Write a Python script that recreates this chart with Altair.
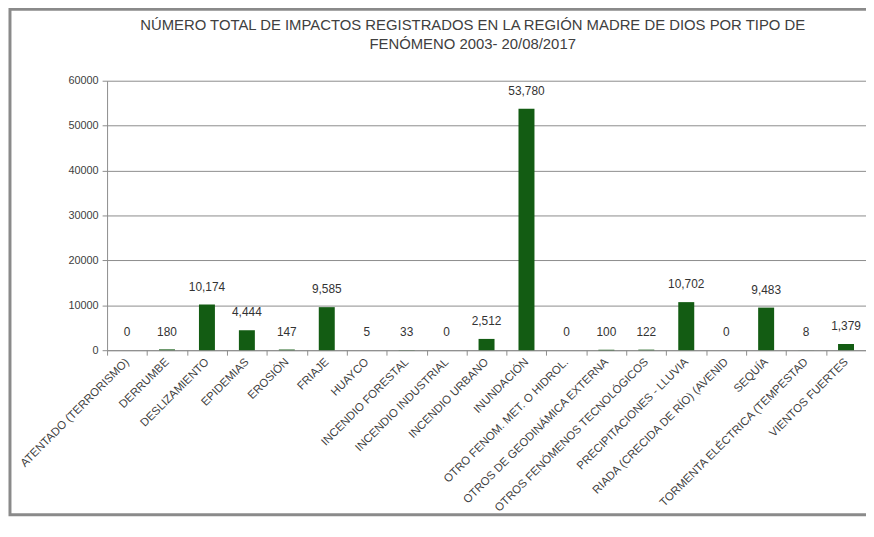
import altair as alt
import pandas as pd

categories = [
    "ATENTADO (TERRORISMO)", "DERRUMBE", "DESLIZAMIENTO", "EPIDEMIAS", "EROSIÓN",
    "FRIAJE", "HUAYCO", "INCENDIO FORESTAL", "INCENDIO INDUSTRIAL", "INCENDIO URBANO",
    "INUNDACIÓN", "OTRO FENOM. MET.  O HIDROL.", "OTROS DE GEODINÁMICA EXTERNA",
    "OTROS FENÓMENOS TECNOLÓGICOS", "PRECIPITACIONES - LLUVIA",
    "RIADA (CRECIDA DE RÍO) (AVENID", "SEQUÍA", "TORMENTA ELÉCTRICA (TEMPESTAD",
    "VIENTOS FUERTES",
]
values = [0, 180, 10174, 4444, 147, 9585, 5, 33, 0, 2512, 53780, 0, 100, 122,
          10702, 0, 9483, 8, 1379]
y_ticks = [0, 10000, 20000, 30000, 40000, 50000, 60000]
title_lines = ["NÚMERO TOTAL DE IMPACTOS REGISTRADOS EN LA REGIÓN MADRE DE DIOS POR TIPO DE",
               "FENÓMENO 2003- 20/08/2017"]

df = pd.DataFrame({"cat": categories, "val": values})

FONT = "Liberation Sans"
GRAY = "#8c8c8c"
TXT = "#404040"

x_enc = alt.X("cat:N", sort=categories,
              scale=alt.Scale(paddingInner=0, paddingOuter=0),
              axis=alt.Axis(title=None, labelAngle=-45, labelAlign="right",
                            labelBaseline="middle", labelPadding=5, tickSize=5,
                            tickBand="extent", domainColor=GRAY, tickColor=GRAY,
                            labelColor=TXT, labelFont=FONT, labelFontSize=11.5,
                            labelOverlap=False, labelLimit=300, grid=False))
y_enc = alt.Y("val:Q", scale=alt.Scale(domain=[0, 60000], nice=False),
              axis=alt.Axis(title=None, values=y_ticks, format="d", tickSize=5,
                            labelPadding=4, domainColor=GRAY, tickColor=GRAY,
                            gridColor=GRAY, grid=True, labelColor=TXT,
                            labelFont=FONT, labelFontSize=11))

base = alt.Chart(df)
bars = base.mark_bar(color="#135c13", width=alt.RelativeBandSize(0.4)).encode(x=x_enc, y=y_enc)
labels = base.mark_text(dy=-18, fontSize=12, font=FONT, color="#333333").encode(
    x=alt.X("cat:N", sort=categories),
    y="val:Q",
    text=alt.Text("val:Q", format=","),
)
frame = alt.Chart(pd.DataFrame({"k": [0]})).mark_rect(
    filled=False, stroke="#8a8a8a", strokeWidth=3
).encode(x=alt.value(-98), x2=alt.value(900), y=alt.value(-72), y2=alt.value(438))

title = alt.Chart(pd.DataFrame({"t": ["\n".join(title_lines)]})).mark_text(
    lineBreak="\n", lineHeight=19, baseline="top", align="center",
    fontSize=15, font=FONT, color=TXT
).encode(x=alt.value(369), y=alt.value(-63), text="t:N")

chart = alt.layer(frame, bars, labels, title).properties(
    width=766, height=272,
    autosize=alt.AutoSizeParams(type="none"),
    padding={"left": 100, "top": 71, "right": 0, "bottom": 169},
).configure_view(stroke=None)

chart.save("out.html", embed_options={"renderer": "svg", "actions": False})
